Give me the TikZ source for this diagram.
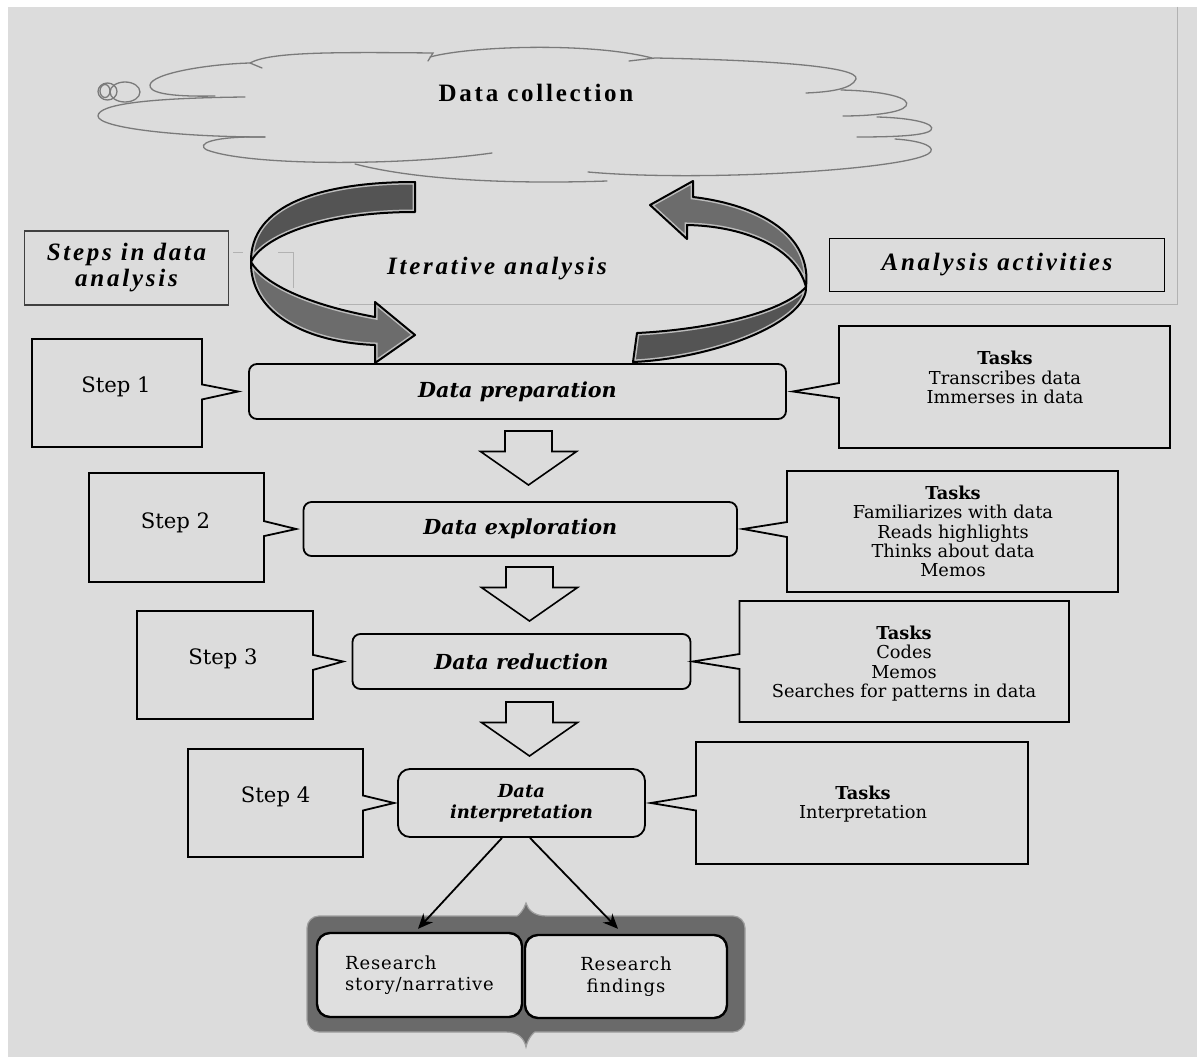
\documentclass[tikz,border=0pt]{standalone}
\usepackage{fontspec}
\setmainfont{Liberation Serif}
\newfontfamily\fnttitle[LetterSpace=11]{Liberation Serif}
\newfontfamily\fntlabel{DejaVu Serif}
\newfontfamily\fntres[LetterSpace=5]{DejaVu Serif}
\newfontfamily\fnttask{DejaVu Serif}
\usetikzlibrary{shapes.callouts,calc,arrows.meta}

\definecolor{bg}{HTML}{DCDCDC}
\definecolor{cloudline}{HTML}{7A7A7A}
\definecolor{frameline}{HTML}{B2B2B2}
\definecolor{ribbondark}{HTML}{545454}
\definecolor{ribbonmid}{HTML}{6C6C6C}
\definecolor{ribbonrim}{HTML}{BDBDBD}
\definecolor{grpfill}{HTML}{6A6A6A}
\definecolor{grprim}{HTML}{A0A0A0}
\definecolor{boxfill}{HTML}{DFDFDF}

% ribbon band: dark fill, light inner rim, black outline
\newcommand\ribbonband[2]{%
  \begin{scope}
    \clip #2;
    \fill[#1] #2;
    \draw[ribbonrim, line width=5pt] #2;
  \end{scope}
  \draw[black, line width=2pt, line join=round] #2;}

\begin{document}
\begin{tikzpicture}[x=1pt,y=-1pt,
  cloudedge/.style={draw=cloudline, line width=1.3pt, line cap=round},
  faint/.style={draw=frameline, line width=1pt},
  titletext/.style={font=\fnttitle\bfseries\fontsize{25}{26}\selectfont},
  titleit/.style={font=\fnttitle\bfseries\itshape\fontsize{25}{26}\selectfont},
  stage/.style={draw=black, line width=1.8pt, rounded corners=8pt, inner sep=0pt,
    font=\fntlabel\bfseries\itshape\fontsize{20.7}{21}\selectfont},
  callbox/.style={rectangle callout, draw=black, line width=1.8pt, inner sep=0pt,
    callout pointer width=15pt, fill=bg},
  steptext/.style={font=\fnttask\fontsize{21.2}{24}\selectfont},
  tasktext/.style={font=\fnttask\fontsize{17.8}{19.3}\selectfont, align=center},
  restext/.style={font=\fntres\fontsize{18}{21.5}\selectfont},
  blockarrow/.style={draw=black, line width=1.6pt, fill=bg, line join=miter},
  downblock/.pic={\draw[blockarrow] (-23.5,0) -- (23.5,0) -- (23.5,20.5) -- (48,20.5)
    -- (0,54) -- (-48,20.5) -- (-23.5,20.5) -- cycle;},
  resbox/.style={draw=black, line width=2.4pt, rounded corners=13pt, fill=boxfill,
    inner sep=0pt, restext},
  conn/.style={line width=1.8pt, -{Stealth[length=15pt,width=13pt]}}
]
\useasboundingbox (0,0) rectangle (1197,1057);
\fill[white] (0,0) rectangle (1197,1057);
\fill[bg] (8,7) rectangle (1197,1057);

% thin frame around the upper area
\draw[faint] (1177,7) -- (1177,304) -- (339,304);
\draw[faint] (233,252) -- (243,252);
\draw[faint] (278,252) -- (293,252) -- (293,288);

% ---------- cloud ----------
\draw[cloudedge] (125,92) ellipse [x radius=15pt, y radius=10pt];
\draw[cloudedge] (107.5,91.5) ellipse [x radius=9.5pt, y radius=8.5pt];
\draw[cloudedge] (105,91) ellipse [x radius=5pt, y radius=6.5pt];
\draw[cloudedge] (245,97) .. controls (150,98) and (98,104) .. (98,116)
  .. controls (98,128) and (180,137) .. (265,137);
\draw[cloudedge] (215,96) .. controls (165,97) and (149,92) .. (150,85)
  .. controls (152,73) and (210,64) .. (250,63) -- (262,68);
\draw[cloudedge] (250,63) .. controls (270,52) and (330,52) .. (433,53) -- (428,61);
\draw[cloudedge] (430,57) .. controls (470,46) and (590,42) .. (652,58);
\draw[cloudedge] (629,61) -- (655,58) .. controls (760,60) and (860,66) .. (856,79)
  .. controls (852,89) and (830,92) .. (806,93);
\draw[cloudedge] (841,90) .. controls (885,91) and (912,98) .. (906,106)
  .. controls (901,113) and (870,116) .. (843,116);
\draw[cloudedge] (877,117) .. controls (915,118) and (936,124) .. (931,130)
  .. controls (926,136) and (890,137) .. (857,137);
\draw[cloudedge] (895,139) .. controls (925,141) and (938,148) .. (928,154)
  .. controls (900,170) and (700,182) .. (588,172);
\draw[cloudedge] (607,181) .. controls (520,184) and (420,181) .. (355,164);
\draw[cloudedge] (492,153) .. controls (400,166) and (250,166) .. (207,150)
  .. controls (195,144) and (212,136) .. (265,137);
\node[titletext, anchor=base] (collect) at (536,101.7) {Data collection};

% ---------- iterative ribbons ----------
\ribbonband{ribbondark}{(415,182) .. controls (320,182) and (250,205) .. (251,262)
  .. controls (262,238) and (320,212) .. (415,212) -- cycle}
\ribbonband{ribbonmid}{(251,262) .. controls (250,310) and (300,342) .. (375,345)
  -- (375,363) -- (415,335) -- (375,302) -- (375,317)
  .. controls (310,305) and (265,285) .. (251,262) -- cycle}
\ribbonband{ribbonmid}{(806,287) .. controls (812,235) and (760,205) .. (693,197)
  -- (693,181) -- (650,205) -- (687,239) -- (687,225)
  .. controls (740,226) and (795,245) .. (806,287) -- cycle}
\ribbonband{ribbondark}{(637,333) .. controls (700,330) and (780,315) .. (806,287)
  .. controls (808,320) and (720,358) .. (633,362) -- cycle}

\node[titleit, anchor=base] (iter) at (497,274) {Iterative analysis};
\node[titleit, draw=black!75, line width=1.2pt, minimum width=204pt, minimum height=74pt,
  inner sep=0pt, align=center] (steps) at (126.5,268) {Steps in data\\analysis};
\node[titleit, draw=black, line width=1.8pt, minimum width=335pt, minimum height=53pt,
  inner sep=0pt] (activities) at (997,265) {Analysis activities};

% ---------- stages ----------
\node[stage, minimum width=537pt, minimum height=55pt] (dprep) at (517.5,391.5) {Data preparation};
\node[stage, minimum width=433.5pt, minimum height=54pt] (dexpl) at (520.3,529) {Data exploration};
\node[stage, minimum width=338pt, minimum height=55pt] (dred) at (521.5,661.5) {Data reduction};
\node[stage, minimum width=247pt, minimum height=68pt, rounded corners=12pt, align=center,
  font=\fntlabel\bfseries\itshape\fontsize{18}{21}\selectfont] (dint) at (521.5,803) {Data\\interpretation};

% ---------- step callouts ----------
\node[callbox, minimum width=170pt, minimum height=108pt,
  callout absolute pointer={($(dprep.west)+(-10,0)$)}] (s1) at (117,393) {};
\node[callbox, minimum width=175pt, minimum height=109pt,
  callout absolute pointer={($(dexpl.west)+(-6.5,0)$)}] (s2) at (176.5,527.5) {};
\node[callbox, minimum width=176pt, minimum height=108pt,
  callout absolute pointer={($(dred.west)+(-8.5,0)$)}] (s3) at (225,665) {};
\node[callbox, minimum width=175pt, minimum height=108pt,
  callout absolute pointer={($(dint.west)+(-3,0)$)}] (s4) at (275.5,803) {};
\node[steptext, anchor=base] (s1t) at (116,392.5) {Step 1};
\node[steptext, anchor=base] (s2t) at (175.5,528) {Step 2};
\node[steptext, anchor=base] (s3t) at (223,664) {Step 3};
\node[steptext, anchor=base] (s4t) at (275.6,802.7) {Step 4};

% ---------- task callouts ----------
\node[callbox, minimum width=331pt, minimum height=122pt,
  callout absolute pointer={($(dprep.east)+(6,0)$)}] (k1) at (1004.5,387) {};
\node[callbox, minimum width=331pt, minimum height=121pt,
  callout absolute pointer={($(dexpl.east)+(5,0)$)}] (k2) at (952.5,531.5) {};
\node[callbox, minimum width=329.5pt, minimum height=121pt,
  callout absolute pointer={($(dred.east)+(1.5,0)$)}] (k3) at (904.3,661.5) {};
\node[callbox, minimum width=332pt, minimum height=122pt,
  callout absolute pointer={($(dint.east)+(5,0)$)}] (k4) at (862,803) {};
% multi-line nodes: the base anchor sits on the last line
\node[tasktext, anchor=base] (k1t) at (1005,403.3)
  {{\bfseries Tasks}\\Transcribes data\\Immerses in data};
\node[tasktext, anchor=base] (k2t) at (953,576.7)
  {{\bfseries Tasks}\\Familiarizes with data\\Reads highlights\\Thinks about data\\Memos};
\node[tasktext, anchor=base] (k3t) at (904,697.3)
  {{\bfseries Tasks}\\Codes\\Memos\\Searches for patterns in data};
\node[tasktext, anchor=base] (k4t) at (863,818.3)
  {{\bfseries Tasks}\\Interpretation};

% ---------- block arrows between stages ----------
\pic at (528.5,431) {downblock};
\pic at (529.5,567) {downblock};
\pic at (529.5,702) {downblock};

% ---------- outcomes ----------
\draw[grprim, fill=grpfill, line width=1.2pt]
  (526,903) .. controls (528,910) and (534,916) .. (547,916)
  [rounded corners=12pt] -- (745,916) -- (745,1032) -- (547,1032) [sharp corners]
  .. controls (534,1032) and (528,1038) .. (526,1047)
  .. controls (524,1038) and (518,1032) .. (505,1032)
  [rounded corners=12pt] -- (307,1032) -- (307,916) -- (505,916) [sharp corners]
  .. controls (518,916) and (524,910) .. (526,903) -- cycle;
\node[resbox, minimum width=205pt, minimum height=84pt, align=left] (story) at (419.5,975)
  {Research\\story/narrative};
\node[resbox, minimum width=202pt, minimum height=83pt, align=center] (findings) at (626,976.5)
  {Research\\findings};

\draw[conn] ($(dint.south)+(-19.5,0)$) -- ($(story.north)+(-1.5,-3)$);
\draw[conn] ($(dint.south)+(8.5,0)$) -- ($(findings.north)+(-8,-5)$);
\end{tikzpicture}
\end{document}
